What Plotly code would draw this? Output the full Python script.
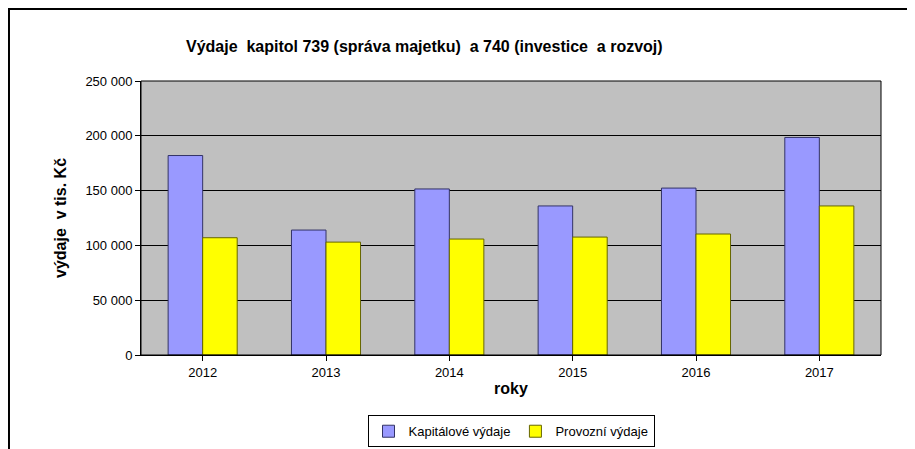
import plotly.graph_objects as go

years = ["2012", "2013", "2014", "2015", "2016", "2017"]
kapitalove = [182000, 114000, 151500, 136000, 152300, 198500]
provozni = [107000, 103000, 105800, 107600, 110400, 136000]

fig = go.Figure()
fig.add_bar(x=years, y=kapitalove, name="Kapitálové výdaje",
            marker=dict(color="#9999FF", line=dict(color="#333366", width=1)))
fig.add_bar(x=years, y=provozni, name="Provozní výdaje",
            marker=dict(color="#FFFF00", line=dict(color="#666600", width=1)))

fig.update_layout(
    width=915, height=449, barmode="group", bargap=0.44, bargroupgap=0.0,
    paper_bgcolor="white", plot_bgcolor="#C0C0C0",
    font=dict(family="Liberation Sans, Arial", size=13, color="black"),
    margin=dict(l=133, r=42, t=73, b=102, autoexpand=False),
    title=dict(text="<b>Výdaje  kapitol 739 (správa majetku)  a 740 (investice  a rozvoj)</b>",
               x=0.455, xanchor="center", y=0.915, yanchor="middle", font=dict(size=16)),
    xaxis=dict(title=dict(text="<b>roky</b>", standoff=4), showline=True, linecolor="black",
               ticks="outside", ticklen=5, tickcolor="black", automargin=False),
    yaxis=dict(title=dict(text="<b>výdaje  v tis. Kč</b>", standoff=14), range=[0, 250000],
               dtick=50000, tickformat=",d", automargin=False,
               showgrid=True, gridcolor="black", gridwidth=1, showline=True, linecolor="black",
               ticks="outside", ticklen=5, tickcolor="black", zeroline=False),
    separators=", ",
    legend=dict(orientation="h", x=0.5, xanchor="center", y=-0.22, yanchor="top",
                bordercolor="black", borderwidth=1, bgcolor="white", font=dict(size=13)),
    shapes=[dict(type="rect", xref="paper", yref="paper", x0=0, y0=0, x1=1, y1=1,
                 line=dict(color="black", width=1)),
            dict(type="rect", xref="paper", yref="paper", x0=-0.1784, y0=-0.3686,
                 x1=1.0554, y1=1.2628, line=dict(color="black", width=2))],
)
fig.write_html("out.html")
